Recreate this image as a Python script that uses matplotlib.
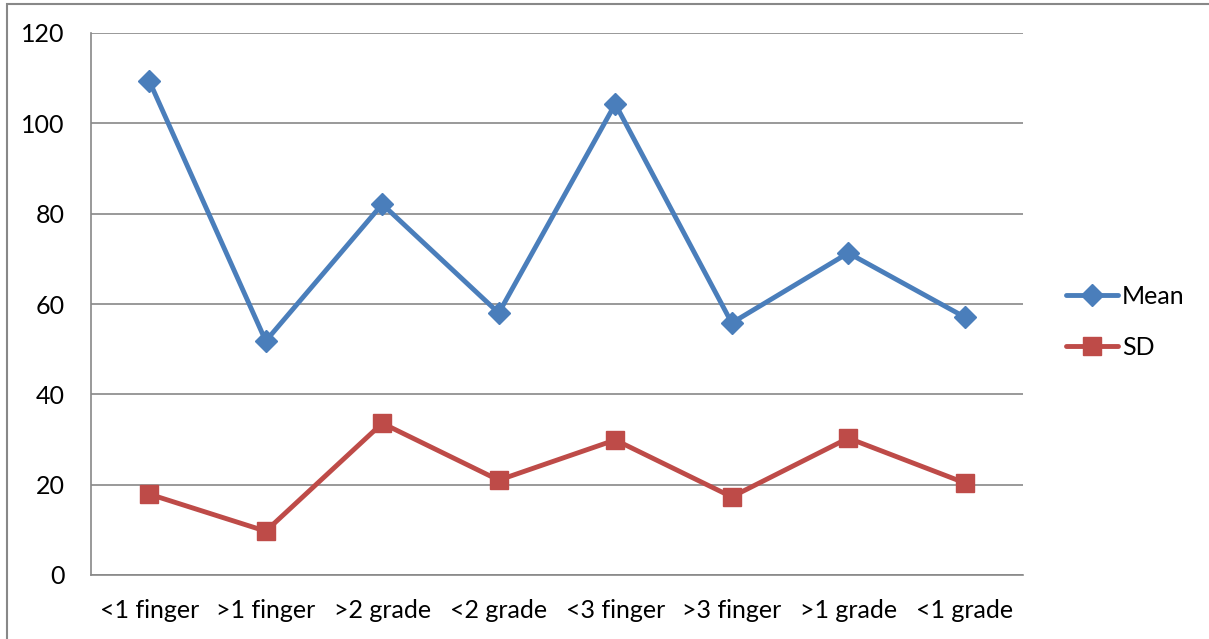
import matplotlib.pyplot as plt
from matplotlib.patches import Rectangle

plt.rcParams['font.family'] = ['Lato', 'DejaVu Sans']

categories = ['<1 finger', '>1 finger', '>2 grade', '<2 grade',
              '<3 finger', '>3 finger', '>1 grade', '<1 grade']
mean_vals = [109.4, 51.8, 82.1, 58.0, 104.3, 55.8, 71.3, 57.1]
sd_vals = [17.9, 9.7, 33.6, 21.0, 29.9, 17.3, 30.3, 20.4]

fig = plt.figure(figsize=(12.09, 6.39), dpi=100)
ax = fig.add_axes([91 / 1209, 64 / 639, 932 / 1209, 542 / 639])

x = range(len(categories))
ax.plot(x, mean_vals, color='#4A7EBB', lw=3.5, marker='D', ms=11,
        label='Mean', solid_capstyle='round')
ax.plot(x, sd_vals, color='#BE4B48', lw=3.5, marker='s', ms=13,
        label='SD', solid_capstyle='round')

ax.set_xlim(-0.5, len(categories) - 0.5)
ax.set_ylim(0, 120)
ax.set_yticks(range(0, 121, 20))
ax.set_xticks(list(x))
ax.set_xticklabels(categories)
ax.yaxis.grid(True, color='#888888', lw=1.2)
ax.set_axisbelow(True)
for side in ['top', 'right']:
    ax.spines[side].set_visible(False)
for side in ['left', 'bottom']:
    ax.spines[side].set_color('#888888')
    ax.spines[side].set_linewidth(1.2)
ax.tick_params(length=0, labelsize=18, pad=17)
ax.tick_params(axis='y', pad=19)

fig.legend(loc='center left', bbox_to_anchor=(1043 / 1209, 1 - 322 / 639),
           frameon=False, fontsize=18, handlelength=2.1, handletextpad=0.15,
           labelspacing=1.1)

# outer chart frame
fig.patches.append(Rectangle((7 / 1209, -0.05), 1.1, 1 - 4 / 639 + 0.05,
                             transform=fig.transFigure, fill=False,
                             edgecolor='#888888', lw=1.5))

fig.savefig('out.png', dpi=100)
